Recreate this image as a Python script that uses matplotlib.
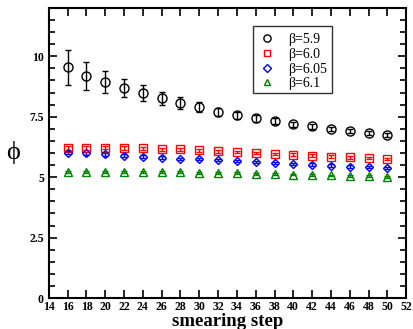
import matplotlib
matplotlib.use("Agg")
import numpy as np
from matplotlib import pyplot as plt
from matplotlib.ticker import MultipleLocator
from matplotlib.transforms import Affine2D

plt.rcParams["font.family"] = ["Liberation Serif", "DejaVu Serif"]
plt.rcParams["font.weight"] = "bold"

steps = np.arange(16, 51, 2)

phi_59 = [9.55, 9.17, 8.93, 8.68, 8.47, 8.26, 8.06, 7.89, 7.70,
          7.56, 7.44, 7.31, 7.19, 7.10, 6.98, 6.90, 6.83, 6.75]
err_59 = [0.72, 0.58, 0.45, 0.38, 0.33, 0.28, 0.24, 0.20, 0.18,
          0.15, 0.14, 0.12, 0.11, 0.10, 0.09, 0.09, 0.08, 0.08]

phi_60 = [6.21, 6.21, 6.22, 6.21, 6.19, 6.16, 6.15, 6.11, 6.08,
          6.04, 6.00, 5.97, 5.93, 5.89, 5.85, 5.82, 5.80, 5.74]
err_60 = [0.08, 0.08, 0.07, 0.07, 0.07, 0.06, 0.06, 0.06, 0.06,
          0.05, 0.05, 0.05, 0.05, 0.05, 0.05, 0.05, 0.05, 0.05]

phi_605 = [6.02, 5.98, 5.94, 5.89, 5.85, 5.80, 5.76, 5.74, 5.70,
           5.66, 5.62, 5.59, 5.55, 5.52, 5.48, 5.44, 5.41, 5.37]
err_605 = [0.07, 0.07, 0.06, 0.06, 0.06, 0.06, 0.05, 0.05, 0.05,
           0.05, 0.05, 0.05, 0.05, 0.05, 0.05, 0.05, 0.05, 0.05]

phi_61 = [5.21, 5.22, 5.22, 5.22, 5.21, 5.20, 5.20, 5.19, 5.17,
          5.16, 5.14, 5.12, 5.11, 5.09, 5.07, 5.05, 5.04, 5.02]
err_61 = [0.04] * 18

fig = plt.figure(figsize=(4.14, 3.29), dpi=100)
ax = fig.add_axes([0.118, 0.094, 0.863, 0.882])

series = [
    (phi_59, err_59, "o", "black", "β=5.9", 6.5),
    (phi_60, err_60, "s", "red", "β=6.0", 5.5),
    (phi_605, err_605, "D", "blue", "β=6.05", 4.5),
    (phi_61, err_61, "^", "green", "β=6.1", 6),
]
handles = []
for vals, errs, mk, col, lab, ms in series:
    cont = ax.errorbar(steps, vals, yerr=errs, fmt=mk, mfc="none", mec=col,
                       ecolor=col, ms=ms, mew=1.0, elinewidth=1.0,
                       capsize=2.5, capthick=1.0, label=lab)
    handles.append(cont[0])

ax.set_xlim(14, 52)
ax.set_ylim(0, 12)
ax.xaxis.set_major_locator(MultipleLocator(2))
ax.yaxis.set_minor_locator(MultipleLocator(0.5))
ax.set_yticks([0, 2.5, 5, 7.5, 10])
ax.set_yticklabels(["0", "2.5", "5", "7.5", "10"])
ax.tick_params(which="both", direction="in", top=True, right=True,
               labelsize=8.5, width=1.2)
ax.tick_params(which="major", length=6)
ax.tick_params(which="minor", length=4)
ax.tick_params(axis="x", pad=2)
for s in ax.spines.values():
    s.set_linewidth(1.5)

ax.set_xlabel("smearing step", fontsize=13.5, fontweight="bold", labelpad=0)
ax.set_ylabel("ϕ", fontsize=19, fontweight="normal", rotation=0,
              labelpad=12, va="center")

leg = ax.legend(handles, [s[4] for s in series], loc="upper left",
                bbox_to_anchor=(0.571, 0.938), borderaxespad=0,
                frameon=True, fancybox=False, edgecolor="black",
                fontsize=10, handletextpad=0.9, borderpad=0.35,
                labelspacing=0.12, handlelength=1.3, markerscale=0.8)
leg.get_frame().set_linewidth(1.0)
# nudge legend rows down a little inside the frame
shift = Affine2D().translate(0, -2.5)
for t in leg.get_texts():
    t.set_fontweight("normal")
    t.set_transform(t.get_transform() + shift)
for h in leg.legend_handles:
    h.set_transform(h.get_transform() + shift)

fig.savefig("out.png", dpi=100)
